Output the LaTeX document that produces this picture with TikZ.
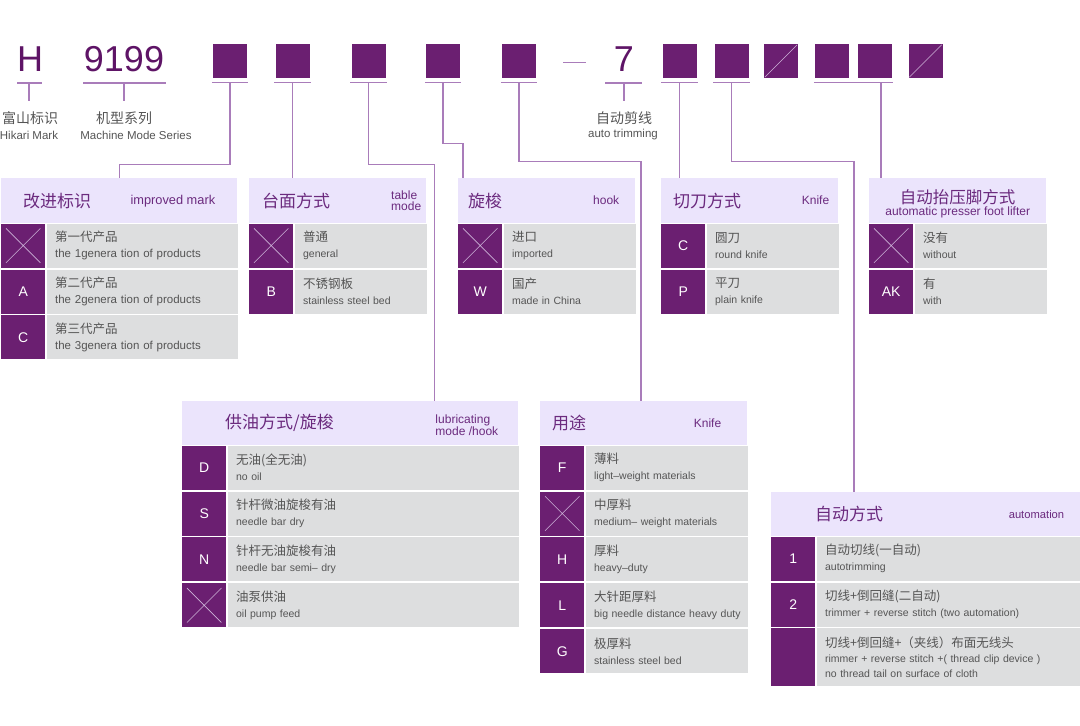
\documentclass[tikz,border=0pt]{standalone}
\usepackage{fontspec}
\setmainfont{Liberation Sans}
\newfontfamily\zh{Noto Sans CJK SC}
\usepackage{xcolor}
\usepackage{tikz}
\usetikzlibrary{positioning,calc}

\definecolor{keyc}{HTML}{6B1F71}
\definecolor{hdrbg}{HTML}{EBE4FC}
\definecolor{rowbg}{HTML}{DDDEDF}
\definecolor{ttlc}{HTML}{6B2A7E}
\definecolor{txtc}{HTML}{555555}
\definecolor{linec}{HTML}{A97CBA}
\definecolor{bigc}{HTML}{5E1466}
\definecolor{crossc}{HTML}{CDB3D8}

% two-line cell text: chinese over english
\newcommand{\dl}[2]{{\zh\fontsize{12.5}{16}\selectfont #1}\\\mbox{#2}}
% cross in an empty key cell
\newcommand{\xcell}[1]{\draw[cross] ([shift={(5,5)}]#1.north west) -- ([shift={(-5,-5)}]#1.south east)
  ([shift={(5,-5)}]#1.south west) -- ([shift={(-5,5)}]#1.north east);}

\begin{document}
\begin{tikzpicture}[x=1pt,y=-1pt,
  sq/.style={fill=keyc,minimum size=34pt,inner sep=0},
  big/.style={text=bigc,font=\fontsize{36}{36}\selectfont,inner sep=0},
  lblzh/.style={text=txtc,font=\zh\fontsize{14}{14}\selectfont,inner sep=0},
  lblen/.style={text=txtc,font=\fontsize{11.5}{12}\selectfont,inner sep=0},
  conn/.style={draw=linec,line width=1.3pt},
  hdr/.style={fill=hdrbg,minimum height=45pt,inner sep=0,anchor=north west},
  ttl/.style={text=ttlc,font=\zh\fontsize{17}{20}\selectfont,inner sep=0,anchor=west},
  eng/.style={text=ttlc,font=\fontsize{12}{11}\selectfont,inner sep=0,anchor=east,align=left},
  key/.style={fill=keyc,text=white,minimum width=44pt,minimum height=44pt,inner sep=0,font=\fontsize{14}{14}\selectfont},
  desc/.style={fill=rowbg,minimum height=44pt,inner xsep=8pt,inner ysep=0,text width=#1,align=left,text=txtc,font=\fontsize{10.5}{16}\selectfont},
  cross/.style={draw=crossc,line width=0.6pt},
  node distance=1.5pt
]
\useasboundingbox (0,0) rectangle (1080,726);

% model code row
\node[big] (mark) at (30,59.5) {H};
\node[big] (series) at (124,59.5) {9199};
\node[big] (trim) at (624,59.5) {7};
\draw[conn,line width=1pt] (563,62) -- (586,62);
\node[sq] (s1) at (230,61) {};
\node[sq] (s2) at (292.5,61) {};
\node[sq] (s3) at (368.5,61) {};
\node[sq] (s4) at (443,61) {};
\node[sq] (s5) at (519,61) {};
\node[sq] (s6) at (679.5,61) {};
\node[sq] (s7) at (731.5,61) {};
\node[sq] (s8) at (781,61) {};
\node[sq] (s9) at (832,61) {};
\node[sq] (s10) at (875,61) {};
\node[sq] (s11) at (925.5,61) {};
\draw[cross] ([shift={(1,-1)}]s8.south west) -- ([shift={(-1,1)}]s8.north east);
\draw[cross] ([shift={(1,-1)}]s11.south west) -- ([shift={(-1,1)}]s11.north east);

% underlines
\coordinate (um) at (29,83);
\coordinate (us) at (124,83);
\coordinate (ut) at (624,83);
\draw[conn] (17,83) -- (42,83) (83,83) -- (166,83) (605,83) -- (642,83);
\foreach \s in {1,...,7} {
  \draw[conn] ([shift={(-1,4)}]s\s.south west) -- ([shift={(1,4)}]s\s.south east);
  \coordinate (u\s) at ([shift={(0,4)}]s\s.south);
}
\draw[conn] ([shift={(-1,4)}]s9.south west) -- ([shift={(1,4)}]s10.south east);
\coordinate (u9) at ([shift={(6,4)}]s10.south);

% labels under the code
\draw[conn] (um) -- ++(0,18);
\draw[conn] (us) -- ++(0,18);
\draw[conn] (ut) -- ++(0,18);
\node[lblzh] (markzh) at (30,118) {富山标识};
\node[lblen] (marken) at (29,135) {Hikari Mark};
\node[lblzh] (serieszh) at (124,118) {机型系列};
\node[lblen] (seriesen) at (136,135) {Machine Mode Series};
\node[lblzh] (trimzh) at (624,118) {自动剪线};
\node[lblen] (trimen) at (623,135) {auto trimming};

% headers
\node[hdr,minimum width=236pt] (h1) at (1,178) {};
\node[ttl] (t1) at ([xshift=22pt]h1.west) {改进标识};
\node[eng,font=\fontsize{12.8}{11}\selectfont] (e1) at ([xshift=-22pt]h1.east) {improved mark};
\node[hdr,minimum width=177pt] (h2) at (249,178) {};
\node[ttl] (t2) at ([xshift=13pt]h2.west) {台面方式};
\node[eng] (e2) at ([xshift=-5pt]h2.east) {table\\mode};
\node[hdr,minimum width=177pt] (h3) at (458,178) {};
\node[ttl] (t3) at ([xshift=10pt]h3.west) {旋梭};
\node[eng] (e3) at ([xshift=-16pt]h3.east) {hook};
\node[hdr,minimum width=177pt] (h4) at (661,178) {};
\node[ttl] (t4) at ([xshift=12pt]h4.west) {切刀方式};
\node[eng] (e4) at ([xshift=-9pt]h4.east) {Knife};
\node[hdr,minimum width=177pt] (h5) at (869,178) {};
\node[text=ttlc,inner sep=0,align=center] (t5) at ([yshift=-3pt]h5.center)
  {{\zh\fontsize{16.5}{16}\selectfont 自动抬压脚方式}\\{\fontsize{12}{16}\selectfont automatic presser foot lifter}};
\node[hdr,minimum width=336pt,minimum height=44pt] (h6) at (182,401) {};
\node[ttl] (t6) at ([xshift=43pt]h6.west) {供油方式/旋梭};
\node[eng] (e6) at ([xshift=-20pt,yshift=-2pt]h6.east) {lubricating\\mode /hook};
\node[hdr,minimum width=207pt,minimum height=44pt] (h7) at (540,401) {};
\node[ttl] (t7) at ([xshift=12pt]h7.west) {用途};
\node[eng] (e7) at ([xshift=-26pt]h7.east) {Knife};
\node[hdr,minimum width=309pt,minimum height=44pt] (h8) at (771,492) {};
\node[ttl] (t8) at ([xshift=44pt]h8.west) {自动方式};
\node[eng,font=\fontsize{11.2}{11}\selectfont] (e8) at ([xshift=-16pt]h8.east) {automation};

% improved mark
\node[key,anchor=north west] (k11) at (h1.south west) {};
\node[desc=174.5pt,right=of k11,font=\fontsize{11.5}{16}\selectfont] (d11) {\dl{第一代产品}{the 1genera tion of products}};
\node[key,below=of k11] (k12) {A};
\node[desc=174.5pt,right=of k12,font=\fontsize{11.5}{16}\selectfont] (d12) {\dl{第二代产品}{the 2genera tion of products}};
\node[key,below=of k12] (k13) {C};
\node[desc=174.5pt,right=of k13,font=\fontsize{11.5}{16}\selectfont] (d13) {\dl{第三代产品}{the 3genera tion of products}};
\xcell{k11}

% table mode
\node[key,anchor=north west] (k21) at (h2.south west) {};
\node[desc=115.5pt,right=of k21] (d21) {\dl{普通}{general}};
\node[key,below=of k21] (k22) {B};
\node[desc=115.5pt,right=of k22] (d22) {\dl{不锈钢板}{stainless steel bed}};
\xcell{k21}

% hook
\node[key,anchor=north west] (k31) at (h3.south west) {};
\node[desc=115.5pt,right=of k31] (d31) {\dl{进口}{imported}};
\node[key,below=of k31] (k32) {W};
\node[desc=115.5pt,right=of k32] (d32) {\dl{国产}{made in China}};
\xcell{k31}

% knife
\node[key,anchor=north west] (k41) at (h4.south west) {C};
\node[desc=115.5pt,right=of k41] (d41) {\dl{圆刀}{round knife}};
\node[key,below=of k41] (k42) {P};
\node[desc=115.5pt,right=of k42] (d42) {\dl{平刀}{plain knife}};

% presser foot lifter
\node[key,anchor=north west] (k51) at (h5.south west) {};
\node[desc=115.5pt,right=of k51] (d51) {\dl{没有}{without}};
\node[key,below=of k51] (k52) {AK};
\node[desc=115.5pt,right=of k52] (d52) {\dl{有}{with}};
\xcell{k51}

% lubricating mode
\node[key,anchor=north west] (k61) at (h6.south west) {D};
\node[desc=274.5pt,right=of k61] (d61) {\dl{无油(全无油)}{no oil}};
\node[key,below=of k61] (k62) {S};
\node[desc=274.5pt,right=of k62] (d62) {\dl{针杆微油旋梭有油}{needle bar dry}};
\node[key,below=of k62] (k63) {N};
\node[desc=274.5pt,right=of k63] (d63) {\dl{针杆无油旋梭有油}{needle bar semi– dry}};
\node[key,below=of k63] (k64) {};
\node[desc=274.5pt,right=of k64] (d64) {\dl{油泵供油}{oil pump feed}};
\xcell{k64}

% use
\node[key,anchor=north west] (k71) at (h7.south west) {F};
\node[desc=145.5pt,right=of k71] (d71) {\dl{薄料}{light–weight materials}};
\node[key,below=of k71] (k72) {};
\node[desc=145.5pt,right=of k72] (d72) {\dl{中厚料}{medium– weight materials}};
\node[key,below=of k72] (k73) {H};
\node[desc=145.5pt,right=of k73] (d73) {\dl{厚料}{heavy–duty}};
\node[key,below=of k73] (k74) {L};
\node[desc=145.5pt,right=of k74] (d74) {\dl{大针距厚料}{big needle distance heavy duty}};
\node[key,below=of k74] (k75) {G};
\node[desc=145.5pt,right=of k75] (d75) {\dl{极厚料}{stainless steel bed}};
\xcell{k72}

% automation
\node[key,anchor=north west] (k81) at (h8.south west) {1};
\node[desc=247.5pt,right=of k81] (d81) {\dl{自动切线(一自动)}{autotrimming}};
\node[key,below=of k81] (k82) {2};
\node[desc=247.5pt,right=of k82] (d82) {\dl{切线+倒回缝(二自动)}{trimmer + reverse stitch (two automation)}};
\node[key,below=of k82,minimum height=58pt] (k83) {};
\node[desc=247.5pt,right=of k83,minimum height=58pt,font=\fontsize{10.5}{15}\selectfont] (d83)
  {{\zh\fontsize{12.5}{15}\selectfont 切线+倒回缝+（夹线）布面无线头}\\\mbox{rimmer + reverse stitch +( thread clip device )}\\\mbox{no thread tail on surface of cloth}};

% connectors
\draw[conn] (u1) -- ++(0,82) -| (h1.north);
\draw[conn] (u2) -- (u2 |- h2.north);
\draw[conn] (u3) -- ++(0,82) -| ([xshift=-84pt]h6.north east);
\draw[conn] (u4) -- ++(0,61) -| ([xshift=5pt]h3.north west);
\draw[conn] (u5) -- ++(0,79) -| ([xshift=101pt]h7.north west);
\draw[conn] (u6) -- (u6 |- h4.north);
\draw[conn] (u7) -- ++(0,79) -| ([xshift=83pt]h8.north west);
\draw[conn] (u9) -- (u9 |- h5.north);
\end{tikzpicture}
\end{document}
